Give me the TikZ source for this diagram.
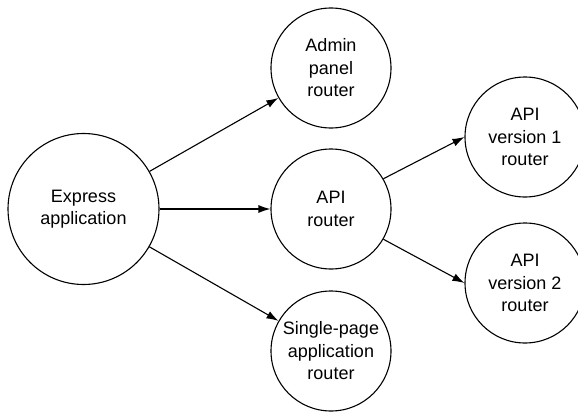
\documentclass[tikz,border=0pt]{standalone}
\usepackage{fontspec}
\setmainfont{Liberation Sans}
\usetikzlibrary{arrows.meta}
\begin{document}
\begin{tikzpicture}[x=1pt,y=-1pt,
  router/.style={circle,draw,line width=1.1pt,fill=white,minimum size=120pt,inner sep=0pt,align=center,font=\fontsize{18}{22.5}\selectfont},
  bigrouter/.style={router,minimum size=151pt},
  link/.style={line width=1.1pt,-{Latex[length=12pt,width=8pt]}}]
\useasboundingbox (0,0) rectangle (578,412);
\node[bigrouter] (express) at (83.5,209) {Express\\application};
\node[router] (admin) at (331,68) {Admin\\panel\\router};
\node[router] (api) at (331,209) {API\\router};
\node[router] (spa) at (331,351) {Single-page\\application\\router};
\node[router] (v1) at (525,137) {API\\version 1\\router};
\node[router] (v2) at (525,283) {API\\version 2\\router};
\draw[link] (express) -- (admin);
\draw[link] (express) -- (api);
\draw[link] (express) -- (spa);
\draw[link] (api.30) -- (v1.west);
\draw[link] (api.-30) -- (v2.west);
\end{tikzpicture}
\end{document}
